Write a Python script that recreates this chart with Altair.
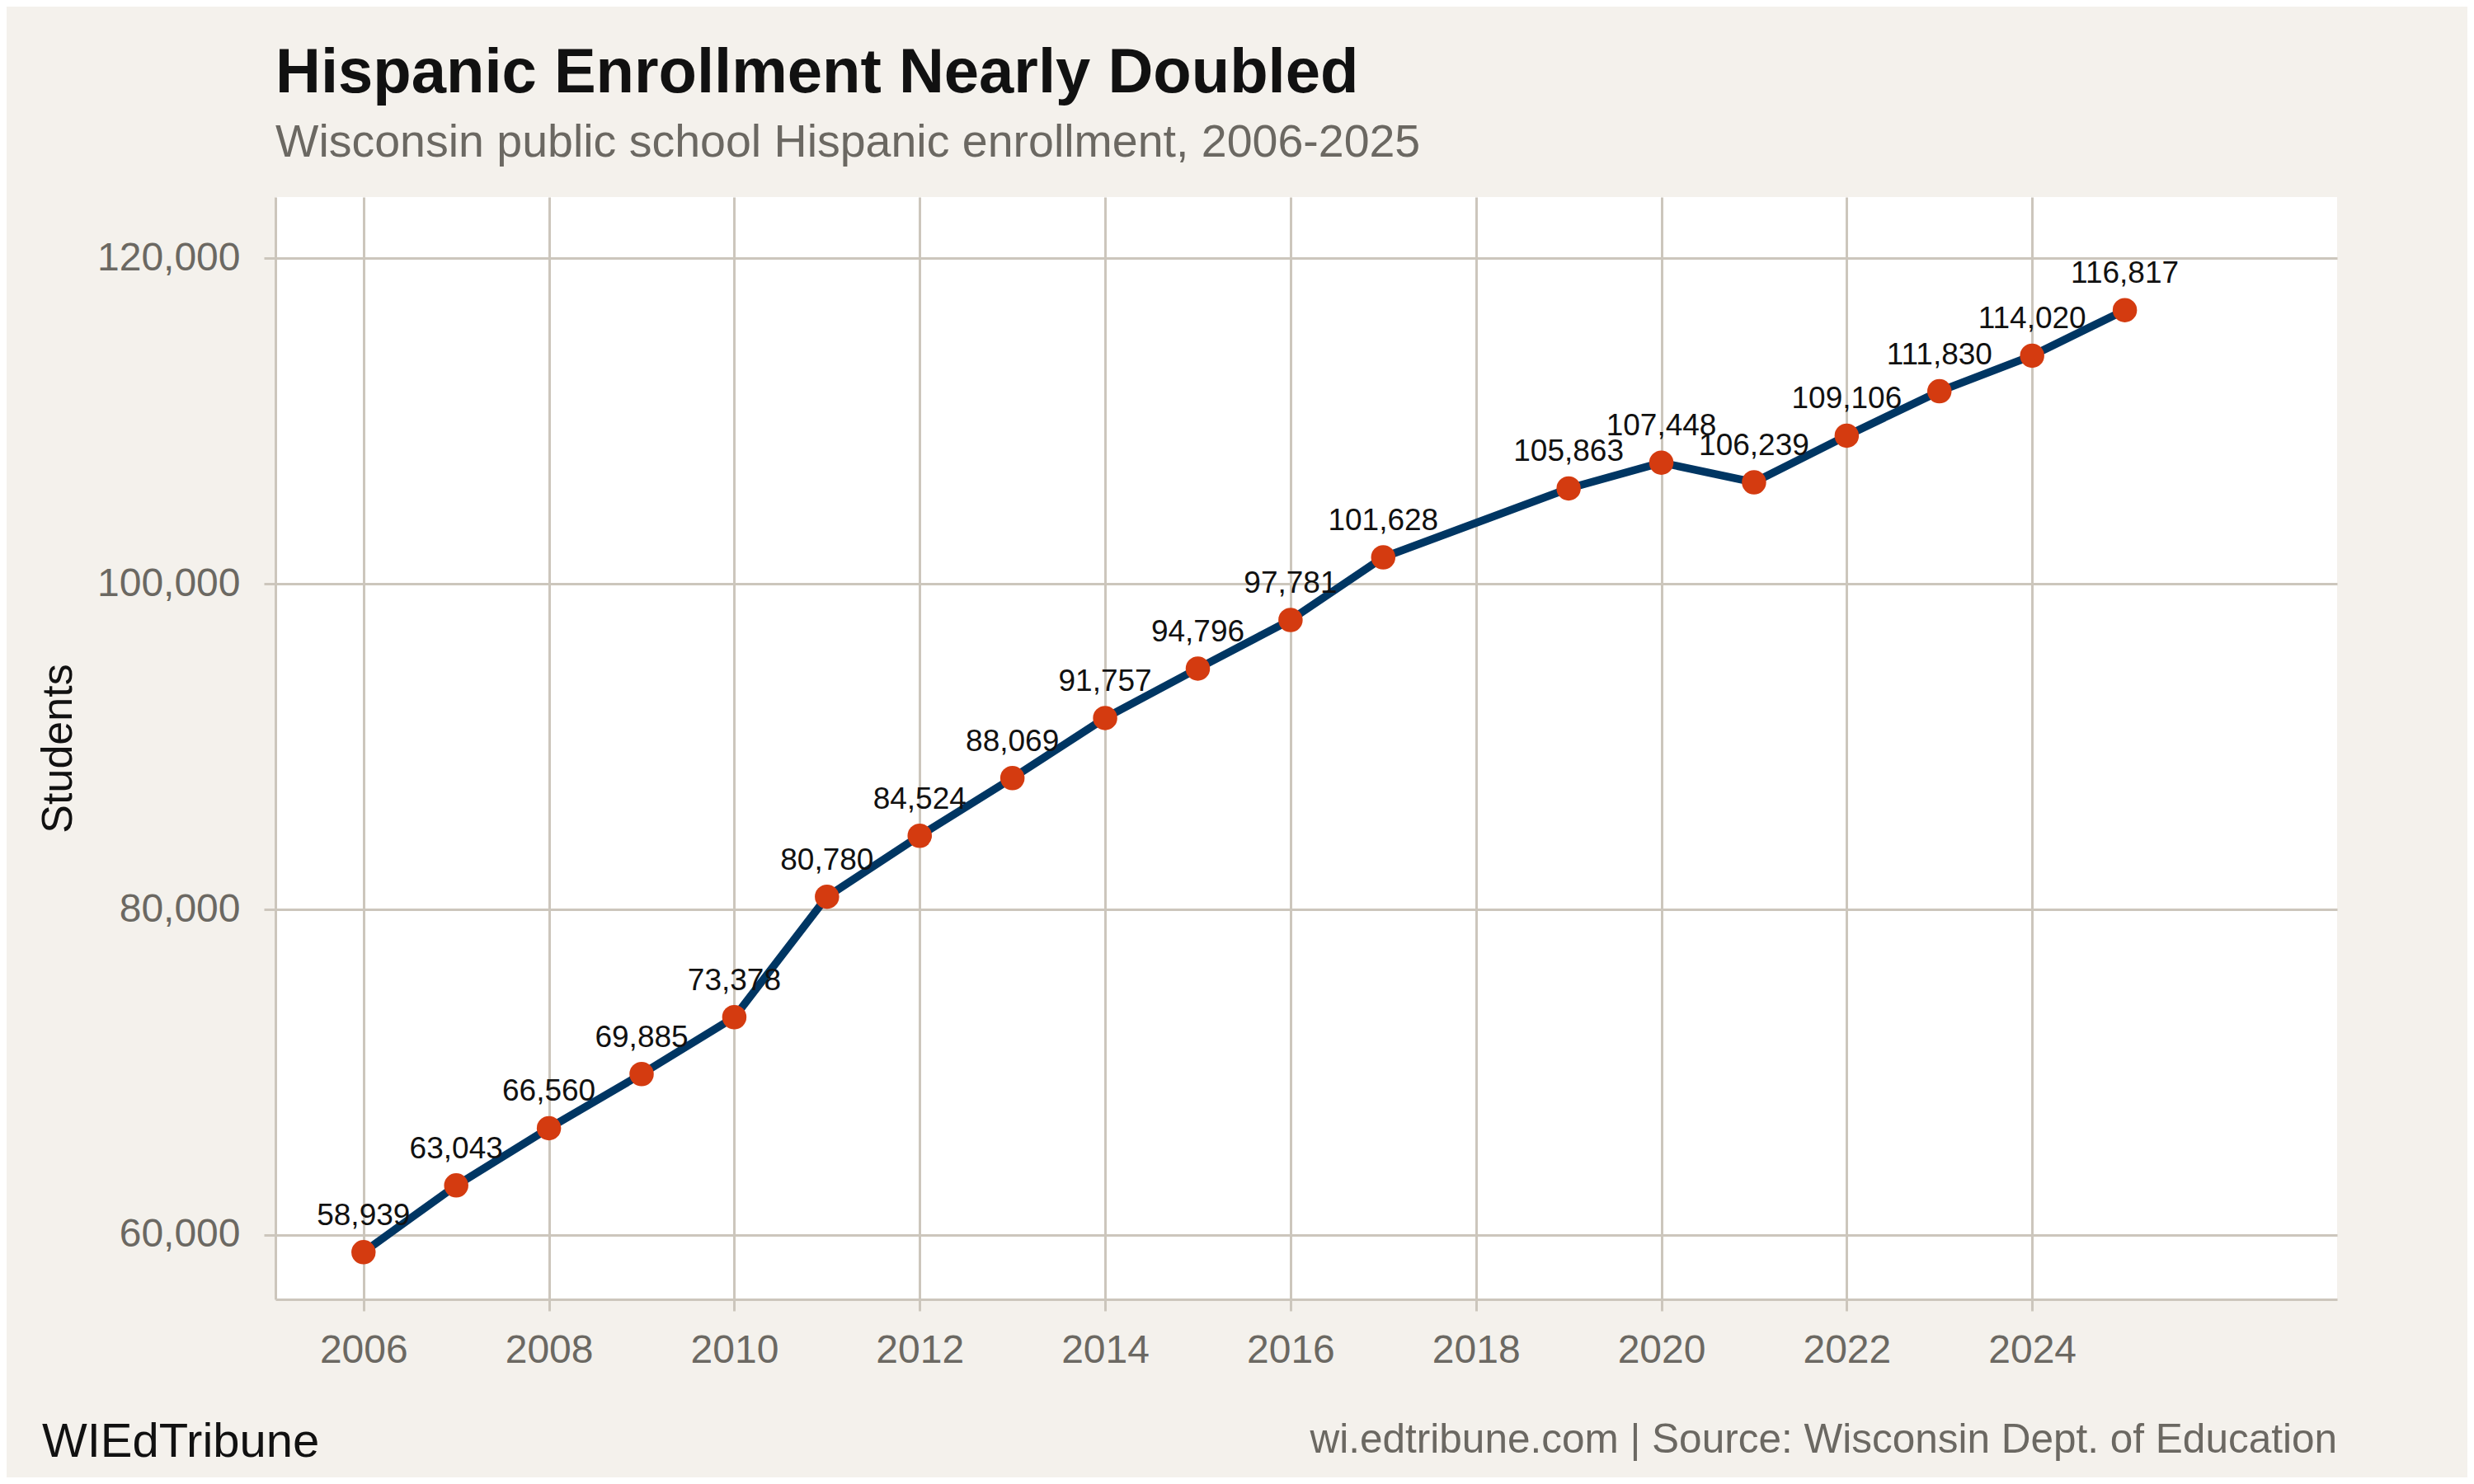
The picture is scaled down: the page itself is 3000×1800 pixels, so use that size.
import altair as alt
import pandas as pd

years = [2006, 2007, 2008, 2009, 2010, 2011, 2012, 2013, 2014, 2015,
         2016, 2017, 2019, 2020, 2021, 2022, 2023, 2024, 2025]
students = [58939, 63043, 66560, 69885, 73378, 80780, 84524, 88069, 91757, 94796,
            97781, 101628, 105863, 107448, 106239, 109106, 111830, 114020, 116817]
x_ticks = [2006, 2008, 2010, 2012, 2014, 2016, 2018, 2020, 2022, 2024]
y_ticks = [60000, 80000, 100000, 120000]

title_text = "Hispanic Enrollment Nearly Doubled"
subtitle_text = "Wisconsin public school Hispanic enrollment, 2006-2025"
footer_left = "WIEdTribune"
footer_right = "wi.edtribune.com | Source: Wisconsin Dept. of Education"

FONT = "Liberation Sans"
BG = "#F4F1EC"
GRID = "#CCC6BC"
GRAY = "#6B6862"
NAVY = "#003663"
RED = "#D43B10"

df = pd.DataFrame({"Year": years, "Students": students})

W, H = 2500, 1337

x_enc = alt.X("Year:Q",
              scale=alt.Scale(domain=[2005.05, 2027.29], nice=False, zero=False),
              axis=alt.Axis(values=x_ticks, format="d", title=None,
                            labelFontSize=48, labelColor=GRAY, labelFont=FONT,
                            labelPadding=24, tickSize=14, tickColor=GRID, tickWidth=3,
                            domainColor=GRID, domainWidth=3,
                            grid=True, gridColor=GRID, gridWidth=3, labelFlush=False))
y_enc = alt.Y("Students:Q",
              scale=alt.Scale(domain=[56045, 123764], nice=False, zero=False),
              axis=alt.Axis(values=y_ticks, format=",.0f", title="Students",
                            labelFontSize=48, labelColor=GRAY, labelFont=FONT,
                            labelPadding=29, tickSize=14, tickColor=GRID, tickWidth=3,
                            domainColor=GRID, domainWidth=3,
                            grid=True, gridColor=GRID, gridWidth=3,
                            titleFont=FONT, titleFontSize=52, titleFontWeight="normal",
                            titleColor="#111111", titlePadding=37, labelFlush=False))

base = alt.Chart(df)

line = base.mark_line(color=NAVY, strokeWidth=9.5).encode(x=x_enc, y=y_enc)
points = base.mark_circle(color=RED, size=870, opacity=1).encode(x="Year:Q", y="Students:Q")
labels = base.mark_text(font=FONT, fontSize=37, color="#111111", align="center",
                        baseline="alphabetic", dy=-33).encode(
    x="Year:Q", y="Students:Q", text=alt.Text("Students:Q", format=","))

foot_l = alt.Chart(pd.DataFrame({"t": [footer_left]})).mark_text(
    font=FONT, fontSize=58, color="#111111", align="left", baseline="alphabetic").encode(
    text="t:N", x=alt.value(51 - 334), y=alt.value(1767 - 239))
foot_r = alt.Chart(pd.DataFrame({"t": [footer_right]})).mark_text(
    font=FONT, fontSize=49.5, color=GRAY, align="right", baseline="alphabetic").encode(
    text="t:N", x=alt.value(W), y=alt.value(1762 - 239))

chart = alt.layer(line, points, labels, foot_l, foot_r).properties(
    width=W, height=H,
    autosize=alt.AutoSizeParams(type="none"),
    padding={"left": 326, "top": 231, "right": 158, "bottom": 216},
    title=alt.TitleParams(text=title_text, subtitle=subtitle_text, anchor="start",
                          frame="group", font=FONT, fontSize=76, fontWeight="bold",
                          color="#111111", subtitleFont=FONT, subtitleFontSize=55.5,
                          subtitleColor=GRAY, subtitlePadding=18, offset=37),
).configure(background=BG).configure_view(fill="white", stroke=None)

chart.save("out.html", embed_options={"renderer": "svg", "actions": False})
